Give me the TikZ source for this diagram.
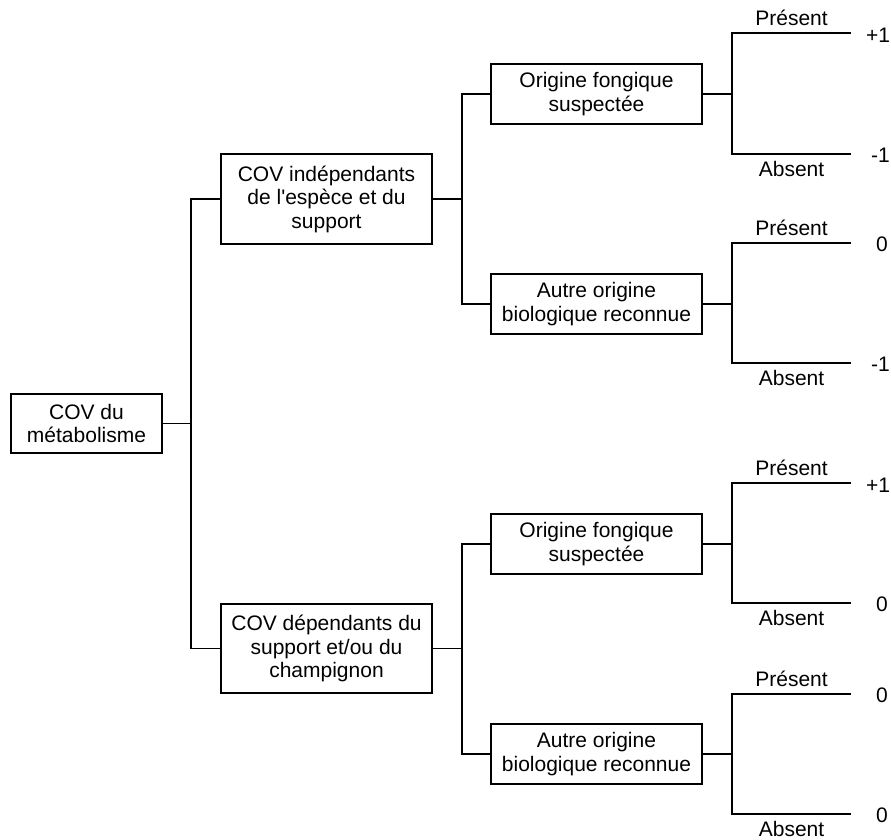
\documentclass[tikz,border=0pt]{standalone}
\usepackage{fontspec}
\setmainfont{Liberation Sans}
\tikzset{
  treebox/.style={draw, line width=1.1pt, inner sep=0pt, align=center, font=\fontsize{21}{23.5}\selectfont},
  lbl/.style={inner sep=0pt, font=\fontsize{21}{23.5}\selectfont},
  conn/.style={draw, line width=1.1pt}
}
\begin{document}
\begin{tikzpicture}[x=1pt,y=-1pt]
\useasboundingbox (0,0) rectangle (891,839);
% boxes
\node[treebox, minimum width=151pt, minimum height=59pt] (root) at (86.5,423.5) {COV du\\métabolisme};
\node[treebox, minimum width=211pt, minimum height=90pt] (A) at (326.5,199) {COV indépendants\\de l\textquotesingle espèce et du\\support};
\node[treebox, minimum width=211pt, minimum height=89pt] (B) at (326.5,648.5) {COV dépendants du\\support et/ou du\\champignon};
\node[treebox, minimum width=211pt, minimum height=60pt] (A1) at (596.5,94) {Origine fongique\\suspectée};
\node[treebox, minimum width=211pt, minimum height=60pt] (A2) at (596.5,304) {Autre origine\\biologique reconnue};
\node[treebox, minimum width=211pt, minimum height=60pt] (B1) at (596.5,544) {Origine fongique\\suspectée};
\node[treebox, minimum width=211pt, minimum height=60pt] (B2) at (596.5,754) {Autre origine\\biologique reconnue};
% junctions
\coordinate (j0) at (191,423.5);
\coordinate (jA) at (462,199);
\coordinate (jB) at (462,648.5);
\coordinate (l1) at (732,94);
\coordinate (l2) at (732,304);
\coordinate (l3) at (732,544);
\coordinate (l4) at (732,754);
\coordinate (p1) at (851,33);  \coordinate (a1) at (851,154);
\coordinate (p2) at (851,243); \coordinate (a2) at (851,363);
\coordinate (p3) at (851,483); \coordinate (a3) at (851,603);
\coordinate (p4) at (851,694); \coordinate (a4) at (851,814);
% connectors
\draw[conn] (root.east) -- (j0);
\draw[conn] (A.west) -| (j0) |- (B.west);
\draw[conn] (A.east) -- (jA);
\draw[conn] (A1.west) -| (jA) |- (A2.west);
\draw[conn] (B.east) -- (jB);
\draw[conn] (B1.west) -| (jB) |- (B2.west);
\draw[conn] (A1.east) -- (l1);
\draw[conn] (A2.east) -- (l2);
\draw[conn] (B1.east) -- (l3);
\draw[conn] (B2.east) -- (l4);
\draw[conn] (p1) -| (l1) |- (a1);
\draw[conn] (p2) -| (l2) |- (a2);
\draw[conn] (p3) -| (l3) |- (a3);
\draw[conn] (p4) -| (l4) |- (a4);
% branch labels
\node[lbl, anchor=base] (tp1) at (791.5,25) {Présent};
\node[lbl, anchor=base] (ta1) at (791.5,176) {Absent};
\node[lbl, anchor=base] (tp2) at (791.5,235) {Présent};
\node[lbl, anchor=base] (ta2) at (791.5,385) {Absent};
\node[lbl, anchor=base] (tp3) at (791.5,475) {Présent};
\node[lbl, anchor=base] (ta3) at (791.5,625) {Absent};
\node[lbl, anchor=base] (tp4) at (791.5,686) {Présent};
\node[lbl, anchor=base] (ta4) at (791.5,836) {Absent};
% values
\node[lbl, anchor=west] (v1) at (866,35) {+1};
\node[lbl, anchor=west] (v2) at (871,155) {-1};
\node[lbl, anchor=west] (v3) at (876,244) {0};
\node[lbl, anchor=west] (v4) at (871,364) {-1};
\node[lbl, anchor=west] (v5) at (866,485) {+1};
\node[lbl, anchor=west] (v6) at (876,604) {0};
\node[lbl, anchor=west] (v7) at (876,695) {0};
\node[lbl, anchor=west] (v8) at (876,815) {0};
\end{tikzpicture}
\end{document}
